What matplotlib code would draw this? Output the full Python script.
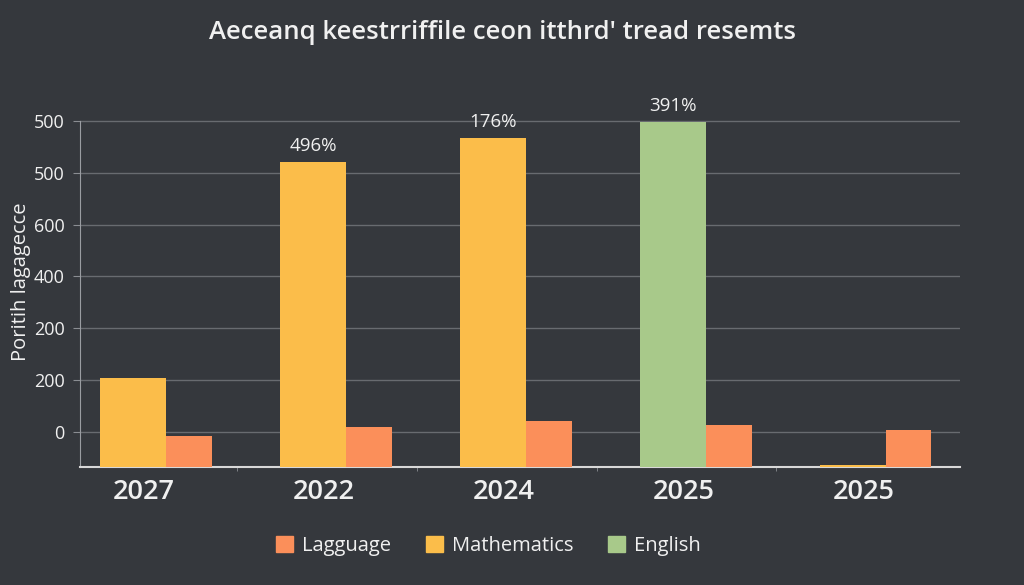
import matplotlib.pyplot as plt
from matplotlib.patches import Patch
import numpy as np

years = ['2027', '2022', '2024', '2025', '2025']
mathematics = [172, 589, 635, 0, 4]
english = [0, 0, 0, 666, 0]
language = [60, 77, 89, 81, 71]
bar_labels = ['', '496%', '176%', '391%', '']
tick_values = [68, 168, 268, 368, 468, 568, 668]
tick_labels = ['0', '200', '200', '400', '600', '500', '500']

bg = '#35383d'
c_math = '#fbbd4a'
c_lang = '#fb8f5a'
c_eng = '#a8c98a'
txt = '#f0f0f0'

plt.rcParams['font.family'] = ['Open Sans', 'DejaVu Sans']

fig = plt.figure(figsize=(10.24, 5.85), dpi=100, facecolor=bg)
ax = fig.add_axes([0.078, 0.2017, 0.8595, 0.627])
ax.set_facecolor(bg)

x = np.arange(len(years)) * 1.01
w_main = 0.37
w_lang = 0.255
ax.bar(x, mathematics, width=w_main, color=c_math, zorder=3)
ax.bar(x, english, width=w_main, color=c_eng, zorder=3)
ax.bar(x + w_main / 2 + w_lang / 2, language, width=w_lang, color=c_lang, zorder=3)

tops = np.maximum(mathematics, english)
for xi, top, lab in zip(x, tops, bar_labels):
    if lab:
        ax.annotate(lab, (xi, top), xytext=(0, 5), textcoords='offset points',
                    ha='center', va='bottom', color=txt, fontsize=13.5)

ax.set_ylim(0, 708)
ax.set_xlim(-0.30, 4.64)
ax.set_yticks(tick_values)
ax.set_yticklabels(tick_labels)
# year labels sit a little right of the bar centres in the original
ax.set_xticks(x + 0.06)
ax.set_xticklabels(years)
ax.set_xticks(x[:-1] + 0.58, minor=True)

ax.grid(axis='y', color='#686b70', linewidth=1, zorder=0)
ax.tick_params(axis='y', colors='#8a8d92', labelcolor=txt, labelsize=13, length=5, pad=6)
ax.tick_params(axis='x', which='major', length=0, labelcolor=txt, labelsize=19.5, pad=8)
ax.tick_params(axis='x', which='minor', length=3, color='#8a8d92')
for t in ax.get_xticklabels():
    t.set_fontweight('semibold')

for s in ['top', 'right']:
    ax.spines[s].set_visible(False)
ax.spines['left'].set_color('#9a9da2')
ax.spines['left'].set_bounds(0, 668)
ax.spines['bottom'].set_color('#d8d8d8')
ax.spines['bottom'].set_linewidth(1.5)

ax.set_ylabel('Poritih lagagecce', color=txt, fontsize=14.5)
ax.yaxis.set_label_coords(-0.056, 0.504)

fig.text(0.491, 0.945, "Aeceanq keestrriffile ceon itthrd' tread resemts",
         ha='center', va='center', color=txt, fontsize=18.5, fontweight='semibold')

handles = [Patch(color=c_lang), Patch(color=c_math), Patch(color=c_eng)]
fig.legend(handles, ['Lagguage', 'Mathematics', 'English'], loc='center',
           bbox_to_anchor=(0.477, 0.067), ncol=3, frameon=False,
           fontsize=14.5, labelcolor=txt, handlelength=0.85, handleheight=0.85,
           columnspacing=1.7, handletextpad=0.45)

fig.savefig('out.png', dpi=100, facecolor=bg)
